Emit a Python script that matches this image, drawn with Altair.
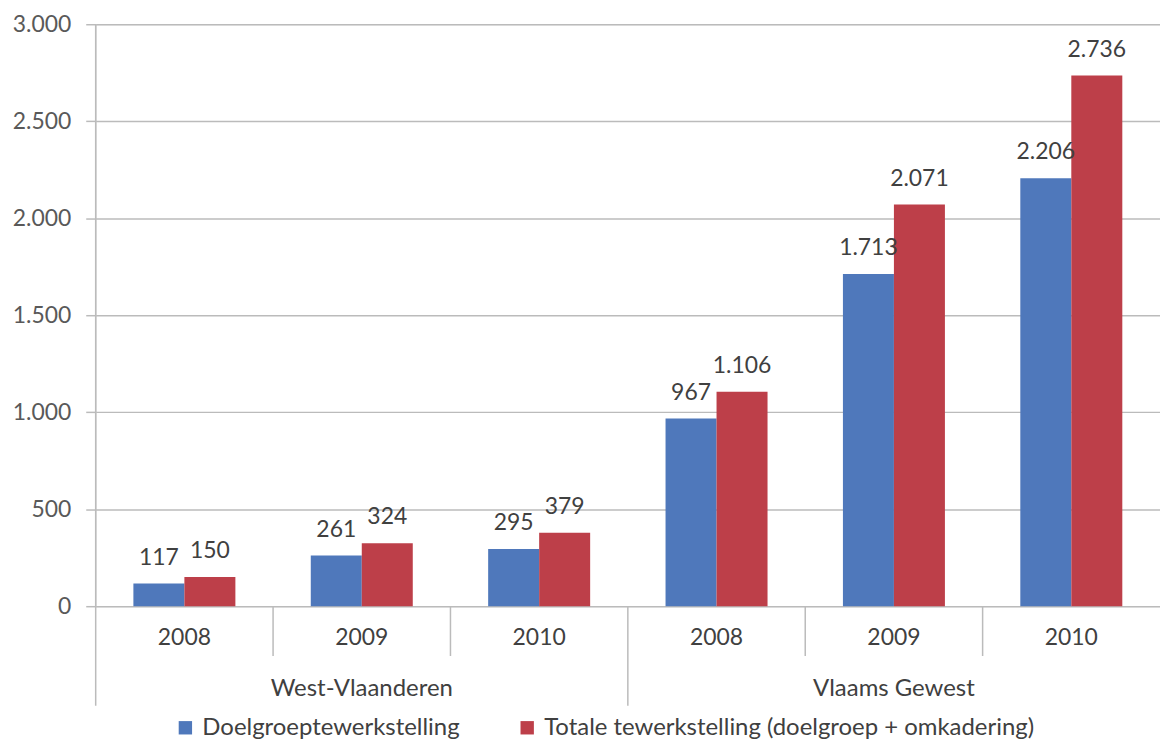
import altair as alt
import pandas as pd

# ---- data ----
regions = ["West-Vlaanderen", "West-Vlaanderen", "West-Vlaanderen",
           "Vlaams Gewest", "Vlaams Gewest", "Vlaams Gewest"]
years = ["2008", "2009", "2010", "2008", "2009", "2010"]
doelgroep = [117, 261, 295, 967, 1713, 2206]
totaal = [150, 324, 379, 1106, 2071, 2736]
series_names = ["Doelgroeptewerkstelling",
                "Totale tewerkstelling (doelgroep + omkadering)"]
series_colors = ["#4F78BB", "#BD3F49"]
group_names = ["West-Vlaanderen", "Vlaams Gewest"]
y_ticks = [0, 500, 1000, 1500, 2000, 2500, 3000]

# ---- tables ----
slots = [f"{r}|{y}" for r, y in zip(regions, years)]
rows = []
for s, r, y, a, b in zip(slots, regions, years, doelgroep, totaal):
    rows.append({"slot": s, "region": r, "year": y, "series": series_names[0], "value": a})
    rows.append({"slot": s, "region": r, "year": y, "series": series_names[1], "value": b})
df = pd.DataFrame(rows)
years_df = pd.DataFrame({"slot": slots, "year": years})
groups_df = pd.DataFrame({"slot": [f"{g}|2009" for g in group_names], "name": group_names})

FONT = "Lato"
GRAY = "#BBBBBB"
TXT = "#404040"
W, H = 1068, 584

xband = alt.X("slot:N", sort=slots, axis=None,
              scale=alt.Scale(paddingInner=0.425, paddingOuter=0.2125))
xoff = alt.XOffset("series:N", sort=series_names, scale=alt.Scale(paddingInner=0, paddingOuter=0))
yq = alt.Y("value:Q", scale=alt.Scale(domain=[0, 3000]), title=None,
           axis=alt.Axis(values=y_ticks,
                         labelExpr="replace(format(datum.value, ','), ',', '.')",
                         grid=True, gridColor=GRAY, gridWidth=1.5,
                         domain=False, ticks=True, tickColor=GRAY, tickWidth=1.5, tickSize=10,
                         labelFont=FONT, labelFontSize=23, labelColor="#595959",
                         labelPadding=15))

bars = alt.Chart(df).mark_bar().encode(
    x=xband, xOffset=xoff, y=yq,
    color=alt.Color("series:N", sort=series_names,
                    scale=alt.Scale(domain=series_names, range=series_colors),
                    legend=alt.Legend(title=None, orient="none", direction="horizontal",
                                      legendX=78, legendY=694,
                                      symbolType="square", symbolSize=180,
                                      symbolStrokeWidth=0,
                                      labelFont=FONT, labelFontSize=24, labelColor=TXT,
                                      labelOffset=5, columnPadding=55, labelLimit=700)),
)

labels = alt.Chart(df).transform_calculate(
    lbl="replace(format(datum.value, ','), ',', '.')"
).mark_text(font=FONT, fontSize=23, color=TXT, baseline="middle", dy=-26).encode(
    x=xband, xOffset=xoff, y=alt.Y("value:Q"), text="lbl:N"
)

year_text = alt.Chart(years_df).mark_text(font=FONT, fontSize=23, color=TXT,
                                          baseline="middle").encode(
    x=xband, y=alt.value(H + 32), text="year:N"
)

group_text = alt.Chart(groups_df).mark_text(font=FONT, fontSize=24, color=TXT,
                                            baseline="middle").encode(
    x=xband, y=alt.value(H + 83), text="name:N"
)

main = alt.layer(bars, labels, year_text, group_text)

# separators between categories (slot boundaries)
bx = alt.X("pos:Q", scale=alt.Scale(domain=[0, 6]), axis=None)
left_axis = alt.Chart(pd.DataFrame({"pos": [0]})).mark_rule(color=GRAY, strokeWidth=1.5).encode(
    x=bx, y=alt.value(0), y2=alt.value(H + 100))
short_sep = alt.Chart(pd.DataFrame({"pos": [1, 2, 4, 5]})).mark_rule(color=GRAY, strokeWidth=1.5).encode(
    x=bx, y=alt.value(H), y2=alt.value(H + 50))
long_sep = alt.Chart(pd.DataFrame({"pos": [3]})).mark_rule(color=GRAY, strokeWidth=1.5).encode(
    x=bx, y=alt.value(H), y2=alt.value(H + 100))
seps = alt.layer(left_axis, short_sep, long_sep)

chart = alt.layer(main, seps).resolve_scale(x="independent").properties(
    width=W, height=H,
    autosize=alt.AutoSizeParams(type="none"),
    padding={"left": 88, "top": 15, "right": 0, "bottom": 138},
).configure_view(stroke=None).configure(background="white")

chart.save("out.html", embed_options={"renderer": "svg", "actions": False})
